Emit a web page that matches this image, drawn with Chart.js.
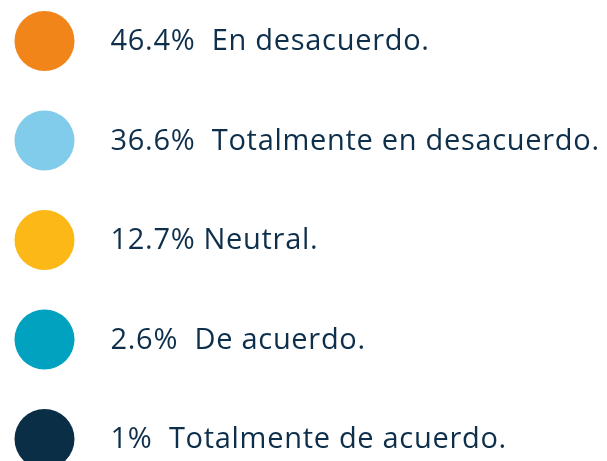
<!DOCTYPE html>
<html>
<head>
<meta charset="utf-8">
<script src="https://cdn.jsdelivr.net/npm/chart.js@4"></script>
<style>
html,body{margin:0;padding:0;background:#fff;}
#wrap{width:607px;height:461px;}
</style>
</head>
<body>
<div id="wrap"><canvas id="c" width="607" height="461"></canvas></div>
<script>
const categories = ["En desacuerdo.", "Totalmente en desacuerdo.", "Neutral.", "De acuerdo.", "Totalmente de acuerdo."];
const percentLabels = ["46.4%", "36.6%", "12.7%", "2.6%", "1%"];
const separators = ["  ", "  ", " ", "  ", "  "];
const values = [46.4, 36.6, 12.7, 2.6, 1];
const colors = ["#F2851A", "#80CCEA", "#FBB817", "#00A2C0", "#0B2E47"];

const points = categories.map((c, i) => ({x: 0, y: i}));

const labelPlugin = {
  id: 'rowLabels',
  afterDatasetsDraw(chart) {
    const ctx = chart.ctx;
    const meta = chart.getDatasetMeta(0);
    ctx.save();
    ctx.fillStyle = '#0E2F4B';
    ctx.font = '29px "Open Sans", sans-serif';
    ctx.letterSpacing = '0.7px';
    ctx.textBaseline = 'alphabetic';
    ctx.textAlign = 'left';
    meta.data.forEach((el, i) => {
      ctx.fillText(percentLabels[i] + separators[i] + categories[i], el.x + 66, el.y + 9);
    });
    ctx.restore();
  }
};

new Chart(document.getElementById('c'), {
  type: 'scatter',
  data: {
    datasets: [{
      label: 'Respuestas',
      data: points,
      pointRadius: 30,
      pointHoverRadius: 30,
      pointBorderWidth: 0,
      backgroundColor: colors,
      borderColor: colors,
      clip: false
    }]
  },
  options: {
    responsive: false,
    animation: false,
    events: [],
    layout: {padding: 0},
    plugins: {legend: {display: false}, tooltip: {enabled: false}},
    scales: {
      x: {type: 'linear', display: false, min: -0.2417, max: 8.875},
      y: {type: 'linear', display: false, reverse: true, min: -0.1106, max: 3.9196}
    }
  },
  plugins: [labelPlugin]
});
</script>
</body>
</html>
